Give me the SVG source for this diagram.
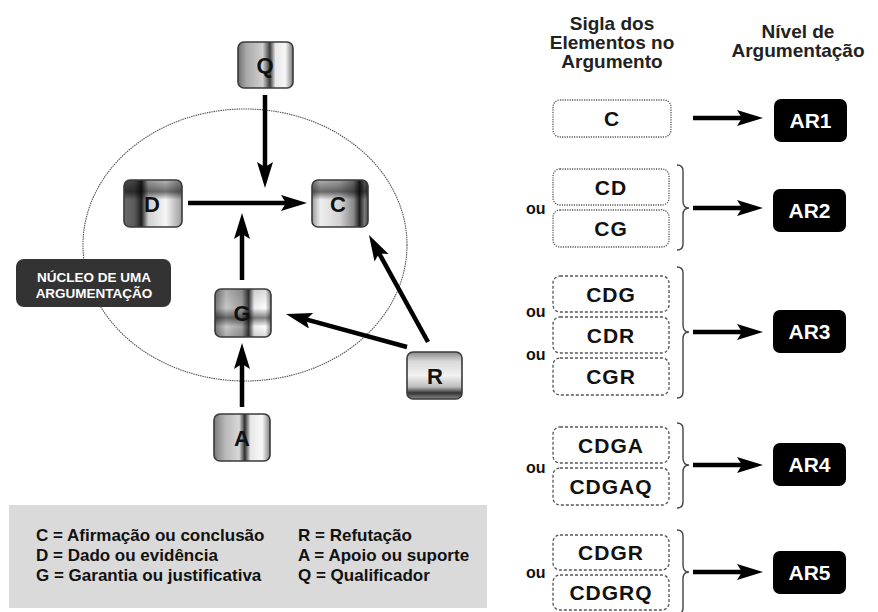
<svg xmlns="http://www.w3.org/2000/svg" width="878" height="612" viewBox="0 0 878 612">
<style>
.bg{fill:#ffffff}
.node{stroke:#3a3a3a;stroke-width:1.6}
.nl{font-family:"Liberation Sans",Arial,sans-serif;font-weight:bold;font-size:22px;fill:#111;text-anchor:middle}
.conn{stroke:#000;stroke-width:4.5;fill:none;marker-end:url(#ah)}
.sig{fill:#fff;stroke:#555;stroke-width:1.3}
.dot{stroke-dasharray:1.2 1.2}
.dash{stroke-dasharray:3 2}
.st{font-family:"Liberation Sans",Arial,sans-serif;font-weight:bold;font-size:21px;fill:#111;text-anchor:middle;letter-spacing:1px}
.ar{fill:#000}
.art{font-family:"Liberation Sans",Arial,sans-serif;font-weight:bold;font-size:21px;fill:#fff;text-anchor:middle}
.ou{font-family:"Liberation Sans",Arial,sans-serif;font-weight:bold;font-size:16px;fill:#111}
.hd{font-family:"Liberation Sans",Arial,sans-serif;font-weight:bold;font-size:19px;fill:#222;text-anchor:middle}
.brace{fill:none;stroke:#444;stroke-width:1.4}
.leg{font-family:"Liberation Sans",Arial,sans-serif;font-weight:bold;font-size:17px;fill:#111}
</style>
<defs>
<marker id="ah" markerUnits="userSpaceOnUse" markerWidth="28" markerHeight="18" refX="10" refY="8" orient="auto">
<path d="M0,0 L26,8 L0,16 L5,8 Z" fill="#000"/>
</marker>
<linearGradient id="hQ" x1="0" y1="0" x2="1" y2="0">
<stop offset="0" stop-color="#6e6e6e"/><stop offset="0.15" stop-color="#a8a8a8"/><stop offset="0.45" stop-color="#d0d0d0"/><stop offset="0.58" stop-color="#3a3a3a"/><stop offset="0.68" stop-color="#e8e8e8"/><stop offset="0.86" stop-color="#f6f6f6"/><stop offset="1" stop-color="#7a7a7a"/>
</linearGradient>
<linearGradient id="hA" x1="0" y1="0" x2="1" y2="0">
<stop offset="0" stop-color="#7a7a7a"/><stop offset="0.2" stop-color="#b8b8b8"/><stop offset="0.45" stop-color="#d8d8d8"/><stop offset="0.55" stop-color="#2e2e2e"/><stop offset="0.65" stop-color="#e6e6e6"/><stop offset="0.86" stop-color="#f8f8f8"/><stop offset="1" stop-color="#808080"/>
</linearGradient>
<linearGradient id="hD" x1="0" y1="0" x2="1" y2="0">
<stop offset="0" stop-color="#6a6a6a"/><stop offset="0.18" stop-color="#5a5a5a"/><stop offset="0.3" stop-color="#1e1e1e"/><stop offset="0.42" stop-color="#cfcfcf"/><stop offset="0.72" stop-color="#f6f6f6"/><stop offset="1" stop-color="#9a9a9a"/>
</linearGradient>
<linearGradient id="hC" x1="0" y1="0" x2="1" y2="0">
<stop offset="0" stop-color="#9a9a9a"/><stop offset="0.15" stop-color="#eeeeee"/><stop offset="0.5" stop-color="#d2d2d2"/><stop offset="0.74" stop-color="#8a8a8a"/><stop offset="0.85" stop-color="#1e1e1e"/><stop offset="0.94" stop-color="#7a7a7a"/><stop offset="1" stop-color="#4a4a4a"/>
</linearGradient>
<linearGradient id="hG" x1="0" y1="0" x2="1" y2="0">
<stop offset="0" stop-color="#777"/><stop offset="0.2" stop-color="#c8c8c8"/><stop offset="0.48" stop-color="#a0a0a0"/><stop offset="0.6" stop-color="#333"/><stop offset="0.7" stop-color="#eee"/><stop offset="0.9" stop-color="#fff"/><stop offset="1" stop-color="#888"/>
</linearGradient>
<linearGradient id="vR" x1="0" y1="0" x2="0" y2="1">
<stop offset="0" stop-color="#8a8a8a"/><stop offset="0.2" stop-color="#d8d8d8"/><stop offset="0.5" stop-color="#f2f2f2"/><stop offset="0.74" stop-color="#bdbdbd"/><stop offset="0.87" stop-color="#333"/><stop offset="1" stop-color="#8a8a8a"/>
</linearGradient>
<linearGradient id="vTop" x1="0" y1="0" x2="0" y2="1">
<stop offset="0" stop-color="#000" stop-opacity="0.25"/><stop offset="0.25" stop-color="#000" stop-opacity="0.55"/><stop offset="0.42" stop-color="#000" stop-opacity="0"/><stop offset="1" stop-color="#000" stop-opacity="0"/>
</linearGradient>
<linearGradient id="vMid" x1="0" y1="0" x2="0" y2="1">
<stop offset="0" stop-color="#000" stop-opacity="0.15"/><stop offset="0.4" stop-color="#000" stop-opacity="0"/><stop offset="0.6" stop-color="#000" stop-opacity="0.5"/><stop offset="0.78" stop-color="#000" stop-opacity="0"/><stop offset="1" stop-color="#000" stop-opacity="0.15"/>
</linearGradient>
</defs>
<rect class="bg" x="0" y="0" width="878" height="612"/>

<ellipse id="nucleo-elipse" cx="245" cy="245" rx="162" ry="136" fill="none" stroke="#555" stroke-width="1.1" stroke-dasharray="1.5 0.8"/>

<g id="nucleo-label">
<rect x="16" y="259" width="155" height="48" rx="8" fill="#333"/>
<text x="94" y="282" font-family="'Liberation Sans',Arial,sans-serif" font-weight="bold" font-size="13.5" fill="#fff" text-anchor="middle">NÚCLEO DE UMA</text>
<text x="94" y="298" font-family="'Liberation Sans',Arial,sans-serif" font-weight="bold" font-size="13.5" fill="#fff" text-anchor="middle">ARGUMENTAÇÃO</text>
</g>

<g id="connectors">
<line class="conn" x1="265" y1="95" x2="265" y2="172"/>
<line class="conn" x1="188" y1="203" x2="291" y2="203"/>
<line class="conn" x1="242" y1="280" x2="242" y2="229"/>
<line class="conn" x1="242" y1="407" x2="242" y2="359"/>
<line class="conn" x1="407" y1="347" x2="301.4" y2="318.2"/>
<line class="conn" x1="428" y1="342" x2="376.7" y2="249"/>
<line class="conn" x1="693" y1="118" x2="747" y2="118"/>
<line class="conn" x1="693" y1="208" x2="747" y2="208"/>
<line class="conn" x1="693" y1="332" x2="747" y2="332"/>
<line class="conn" x1="693" y1="465" x2="747" y2="465"/>
<line class="conn" x1="693" y1="572" x2="747" y2="572"/>
</g>

<g id="node-Q">
<rect x="238" y="42" width="55" height="46" rx="6" fill="url(#hQ)"/>
<rect class="node" x="238" y="42" width="55" height="46" rx="6" fill="none"/>
<text class="nl" x="265" y="73">Q</text>
</g>
<g id="node-D">
<rect x="124" y="180" width="58" height="47" rx="6" fill="url(#hD)"/>
<rect x="124" y="180" width="58" height="47" rx="6" fill="url(#vTop)"/>
<rect class="node" x="124" y="180" width="58" height="47" rx="6" fill="none"/>
<text class="nl" x="152" y="212">D</text>
</g>
<g id="node-C">
<rect x="312" y="180" width="56" height="47" rx="6" fill="url(#hC)"/>
<rect x="312" y="180" width="56" height="47" rx="6" fill="url(#vTop)"/>
<rect class="node" x="312" y="180" width="56" height="47" rx="6" fill="none"/>
<text class="nl" x="338" y="212">C</text>
</g>
<g id="node-G">
<rect x="215" y="289" width="56" height="48" rx="6" fill="url(#hG)"/>
<rect x="215" y="289" width="56" height="48" rx="6" fill="url(#vMid)"/>
<rect class="node" x="215" y="289" width="56" height="48" rx="6" fill="none"/>
<text class="nl" x="242" y="321">G</text>
</g>
<g id="node-R">
<rect x="407" y="352" width="55" height="47" rx="6" fill="url(#vR)"/>
<rect class="node" x="407" y="352" width="55" height="47" rx="6" fill="none"/>
<text class="nl" x="435" y="384">R</text>
</g>
<g id="node-A">
<rect x="214" y="414" width="56" height="47" rx="6" fill="url(#hA)"/>
<rect class="node" x="214" y="414" width="56" height="47" rx="6" fill="none"/>
<text class="nl" x="242" y="446">A</text>
</g>

<g id="legend">
<rect x="9" y="505" width="478" height="103" fill="#dadada"/>
<text class="leg" x="36" y="541">C = Afirmação ou conclusão</text>
<text class="leg" x="36" y="561">D = Dado ou evidência</text>
<text class="leg" x="36" y="581">G = Garantia ou justificativa</text>
<text class="leg" x="298" y="541">R = Refutação</text>
<text class="leg" x="298" y="561">A = Apoio ou suporte</text>
<text class="leg" x="298" y="581">Q = Qualificador</text>
</g>

<g id="headers">
<text class="hd" x="612" y="30">Sigla dos</text>
<text class="hd" x="612" y="49">Elementos no</text>
<text class="hd" x="612" y="68">Argumento</text>
<text class="hd" x="798" y="38">Nível de</text>
<text class="hd" x="798" y="57">Argumentação</text>
</g>

<g id="sig-row1">
<rect class="sig dot" x="553" y="100" width="118" height="37" rx="7"/>
<text class="st" x="612" y="126">C</text>
</g>
<g id="sig-row2">
<rect class="sig dot" x="553" y="169" width="116" height="36" rx="7"/>
<text class="st" x="611" y="195">CD</text>
<rect class="sig dot" x="553" y="210" width="116" height="37" rx="7"/>
<text class="st" x="611" y="236">CG</text>
<text class="ou" x="526" y="214">ou</text>
<path class="brace" d="M677,165 Q683,165 683,171 L683,201 Q683,208 689,208 Q683,208 683,215 L683,244 Q683,250 677,250"/>
</g>
<g id="sig-row3">
<rect class="sig dash" x="553" y="276" width="116" height="36" rx="7"/>
<text class="st" x="611" y="302">CDG</text>
<rect class="sig dash" x="553" y="317" width="116" height="36" rx="7"/>
<text class="st" x="611" y="343">CDR</text>
<rect class="sig dash" x="553" y="358" width="116" height="37" rx="7"/>
<text class="st" x="611" y="384">CGR</text>
<text class="ou" x="526" y="317">ou</text>
<text class="ou" x="526" y="360">ou</text>
<path class="brace" d="M677,267 Q683,267 683,273 L683,325 Q683,332 689,332 Q683,332 683,339 L683,392 Q683,398 677,398"/>
</g>
<g id="sig-row4">
<rect class="sig dash" x="553" y="427" width="116" height="36" rx="7"/>
<text class="st" x="611" y="453">CDGA</text>
<rect class="sig dash" x="553" y="468" width="116" height="37" rx="7"/>
<text class="st" x="611" y="494">CDGAQ</text>
<text class="ou" x="526" y="473">ou</text>
<path class="brace" d="M677,423 Q683,423 683,429 L683,458 Q683,465 689,465 Q683,465 683,472 L683,502 Q683,508 677,508"/>
</g>
<g id="sig-row5">
<rect class="sig dash" x="553" y="535" width="116" height="35" rx="7"/>
<text class="st" x="611" y="560">CDGR</text>
<rect class="sig dash" x="553" y="575" width="116" height="35" rx="7"/>
<text class="st" x="611" y="600">CDGRQ</text>
<text class="ou" x="526" y="578">ou</text>
<path class="brace" d="M677,530 Q683,530 683,536 L683,565 Q683,572 689,572 Q683,572 683,579 L683,608 Q683,614 677,614"/>
</g>

<g id="AR1"><rect class="ar" x="774" y="99" width="73" height="43" rx="7"/><text class="art" x="810.5" y="128">AR1</text></g>
<g id="AR2"><rect class="ar" x="773" y="189" width="73" height="43" rx="7"/><text class="art" x="809.5" y="218">AR2</text></g>
<g id="AR3"><rect class="ar" x="773" y="310" width="73" height="43" rx="7"/><text class="art" x="809.5" y="339">AR3</text></g>
<g id="AR4"><rect class="ar" x="773" y="443" width="73" height="43" rx="7"/><text class="art" x="809.5" y="472">AR4</text></g>
<g id="AR5"><rect class="ar" x="773" y="551" width="73" height="43" rx="7"/><text class="art" x="809.5" y="580">AR5</text></g>
</svg>
